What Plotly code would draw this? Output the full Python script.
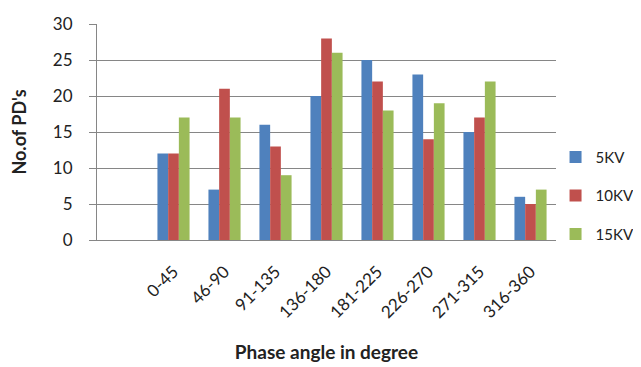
import plotly.graph_objects as go

categories = ["0-45", "46-90", "91-135", "136-180", "181-225", "226-270", "271-315", "316-360"]
kv5 = [12, 7, 16, 20, 25, 23, 15, 6]
kv10 = [12, 21, 13, 28, 22, 14, 17, 5]
kv15 = [17, 17, 9, 26, 18, 19, 22, 7]
series_names = ["5KV", "10KV", "15KV"]
colors = ["#4F81BD", "#C0504D", "#9BBB59"]
y_ticks = [0, 5, 10, 15, 20, 25, 30]

FONT = "Lato"
fig = go.Figure()
for name, vals, col in zip(series_names, [kv5, kv10, kv15], colors):
    fig.add_trace(go.Bar(x=categories, y=vals, name=name, marker_color=col,
                         marker_line_width=0, legendgroup=name))

fig.update_layout(
    width=641, height=367,
    margin=dict(l=89, r=93, t=16, b=135, autoexpand=False),
    paper_bgcolor="white", plot_bgcolor="white",
    barmode="group", bargap=0.37, bargroupgap=0,
    font=dict(family=FONT, size=16, color="#222222"),
    showlegend=True,
    legend=dict(x=0.999, xanchor="left", y=0.205, yanchor="middle",
                tracegroupgap=16, font=dict(size=15, family=FONT),
                bgcolor="rgba(0,0,0,0)", borderwidth=0),
    xaxis=dict(type="category", range=[-1.5, 7.5], tickangle=-45,
               showline=True, linecolor="#868686", linewidth=1,
               showgrid=False, ticks="", ticklabelstandoff=14,
               tickfont=dict(family=FONT, size=17),
               title=dict(text="<b>Phase angle in degree</b>", standoff=24,
                          font=dict(family=FONT, size=19))),
    yaxis=dict(range=[0, 30], tickvals=y_ticks, showgrid=True,
               gridcolor="#868686", gridwidth=1,
               showline=True, linecolor="#868686", linewidth=1,
               ticks="outside", ticklen=7, tickcolor="#868686",
               ticklabelstandoff=13, zeroline=False,
               tickfont=dict(family=FONT, size=17),
               title=dict(text="<b>No.of PD's</b>", standoff=21,
                          font=dict(family=FONT, size=18))),
)
fig.write_html("out.html")
